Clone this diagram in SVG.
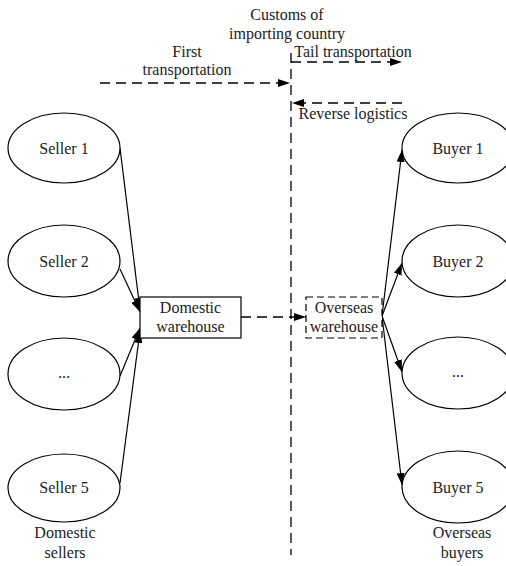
<svg xmlns="http://www.w3.org/2000/svg" width="506" height="566" viewBox="0 0 506 566">
<defs>
<marker id="ah" viewBox="0 0 12 8" refX="12" refY="4" markerWidth="12" markerHeight="8" markerUnits="userSpaceOnUse" orient="auto">
<path d="M0,0 L12,4 L0,8 Z" fill="#000"/>
</marker>
</defs>
<style>
text{font-family:"Liberation Serif","Times New Roman",serif;font-size:16px;fill:#222;text-anchor:middle}
.node{fill:#fff;stroke:#000;stroke-width:1.2}
.dash{fill:none;stroke:#000;stroke-width:1.3;stroke-dasharray:10 6}
.solid{fill:none;stroke:#000;stroke-width:1.2}
</style>
<rect width="506" height="566" fill="#fff"/>
<g id="labels">
<text x="287" y="20">Customs of</text>
<text x="287" y="39">importing country</text>
<text x="187" y="57">First</text>
<text x="187" y="75">transportation</text>
<text x="353" y="57">Tail transportation</text>
<text x="353" y="119">Reverse logistics</text>
<text x="65" y="538">Domestic</text>
<text x="65" y="558">sellers</text>
<text x="462" y="538">Overseas</text>
<text x="462" y="558">buyers</text>
</g>
<g id="connectors">
<line class="dash" x1="291" y1="53" x2="291" y2="555"/>
<line class="dash" x1="100" y1="83" x2="290" y2="83" marker-end="url(#ah)"/>
<line class="dash" x1="291" y1="62" x2="402" y2="62" marker-end="url(#ah)"/>
<line class="dash" x1="402" y1="103" x2="292" y2="103" marker-end="url(#ah)"/>
<line class="dash" x1="241" y1="317" x2="306" y2="317" marker-end="url(#ah)"/>
<line class="solid" x1="120" y1="148" x2="140" y2="310" marker-end="url(#ah)"/>
<line class="solid" x1="120" y1="269" x2="140" y2="312" marker-end="url(#ah)"/>
<line class="solid" x1="120" y1="376" x2="140" y2="328" marker-end="url(#ah)"/>
<line class="solid" x1="120" y1="483" x2="140" y2="331" marker-end="url(#ah)"/>
<line class="solid" x1="382" y1="316" x2="402" y2="150" marker-end="url(#ah)"/>
<line class="solid" x1="382" y1="316" x2="402" y2="263" marker-end="url(#ah)"/>
<line class="solid" x1="382" y1="316" x2="402" y2="372" marker-end="url(#ah)"/>
<line class="solid" x1="382" y1="316" x2="402" y2="485" marker-end="url(#ah)"/>
</g>
<g id="seller1"><ellipse class="node" cx="64" cy="148" rx="56" ry="35"/><text x="64" y="154">Seller 1</text></g>
<g id="seller2"><ellipse class="node" cx="64" cy="261" rx="56" ry="36"/><text x="64" y="267">Seller 2</text></g>
<g id="seller3"><ellipse class="node" cx="64" cy="374" rx="56" ry="36"/><text x="64" y="378">...</text></g>
<g id="seller5"><ellipse class="node" cx="64" cy="488" rx="56" ry="34"/><text x="64" y="493">Seller 5</text></g>
<g id="domestic-warehouse"><rect class="node" x="140" y="297" width="101" height="41"/><text x="190.5" y="313">Domestic</text><text x="190.5" y="332">warehouse</text></g>
<g id="overseas-warehouse"><rect x="306" y="297" width="76" height="41" fill="#fff" stroke="#000" stroke-width="1.2" stroke-dasharray="7 4"/><text x="344" y="313">Overseas</text><text x="344" y="332">warehouse</text></g>
<g id="buyer1"><ellipse class="node" cx="458" cy="148" rx="56" ry="35"/><text x="458" y="154">Buyer 1</text></g>
<g id="buyer2"><ellipse class="node" cx="458" cy="261" rx="56" ry="36"/><text x="458" y="267">Buyer 2</text></g>
<g id="buyer3"><ellipse class="node" cx="458" cy="373" rx="56" ry="36"/><text x="458" y="377">...</text></g>
<g id="buyer5"><ellipse class="node" cx="458" cy="487" rx="56" ry="36"/><text x="458" y="493">Buyer 5</text></g>
</svg>
